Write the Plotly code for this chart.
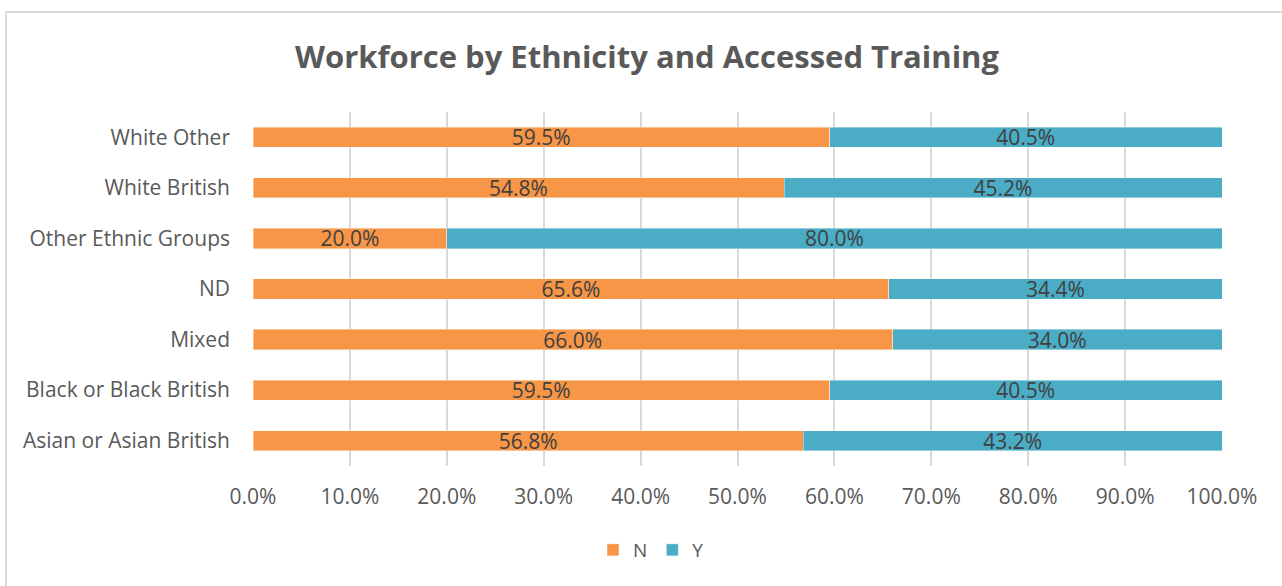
import plotly.graph_objects as go

# Ethnic groups, bottom to top as listed on the axis
groups = [
    "Asian or Asian British",
    "Black or Black British",
    "Mixed",
    "ND",
    "Other Ethnic Groups",
    "White British",
    "White Other",
]
# Share of the workforce that did (Y) / did not (N) access training, in %
pct_n = [56.8, 59.5, 66.0, 65.6, 20.0, 54.8, 59.5]
pct_y = [43.2, 40.5, 34.0, 34.4, 80.0, 45.2, 40.5]

x_ticks = [0, 10, 20, 30, 40, 50, 60, 70, 80, 90, 100]
x_tick_labels = [f"{v:.1f}%" for v in x_ticks]

ORANGE = "#F79646"
BLUE = "#4BACC6"
TEXT = "#595959"
LABEL = "#404040"
GRID = "#D9D9D9"
FONT = "Open Sans, Liberation Sans, sans-serif"

fig = go.Figure()
for name, vals, color in (("N", pct_n, ORANGE), ("Y", pct_y, BLUE)):
    fig.add_trace(go.Bar(
        name=name,
        y=groups,
        x=vals,
        orientation="h",
        marker=dict(color=color, line=dict(color="rgba(255,255,255,0.5)", width=0.8)),
        text=[f"{v:.1f}%" for v in vals],
        textposition="inside",
        insidetextanchor="middle",
        constraintext="none",
        textfont=dict(family=FONT, size=21, color=LABEL),
        hoverinfo="skip",
    ))

W, H = 1282, 586
ml, mr, mt, mb = 253, 60, 112, 120
pw, ph = W - ml - mr, H - mt - mb

def px_x(x):
    return (x - ml) / pw

def px_y(y):
    return 1 - (y - mt) / ph

fig.update_layout(
    width=W,
    height=H,
    barmode="stack",
    bargap=0.6,
    uniformtext=dict(minsize=21, mode="show"),
    margin=dict(l=ml, r=mr, t=mt, b=mb),
    paper_bgcolor="white",
    plot_bgcolor="white",
    font=dict(family=FONT, color=TEXT, size=20),
    title=dict(
        text="<b>Workforce by Ethnicity and Accessed Training</b>",
        font=dict(family=FONT, size=31, color=TEXT),
        x=px_x(647),
        xanchor="center",
        y=1 - 57 / H,
        yanchor="middle",
        xref="paper",
    ),
    xaxis=dict(
        range=[0, 100],
        tickvals=x_ticks,
        ticktext=x_tick_labels,
        showgrid=True,
        gridcolor=GRID,
        gridwidth=2,
        zeroline=False,
        showline=False,
        ticks="",
        tickfont=dict(family=FONT, size=21, color=TEXT),
        ticklabelstandoff=16,
        fixedrange=True,
    ),
    yaxis=dict(
        categoryorder="array",
        categoryarray=groups,
        range=[-0.5, 6.5],
        showgrid=False,
        zeroline=False,
        showline=False,
        ticks="",
        ticklabelstandoff=22,
        tickfont=dict(family=FONT, size=21, color=TEXT),
        fixedrange=True,
    ),
    legend=dict(
        orientation="h",
        x=px_x(651),
        xanchor="center",
        y=px_y(550),
        yanchor="middle",
        font=dict(family=FONT, size=19, color=TEXT),
        itemwidth=30,
        traceorder="normal",
    ),
    shapes=[
        # chart frame: top and left edges
        dict(type="line", xref="paper", yref="paper",
             x0=px_x(6), x1=px_x(1290), y0=px_y(12), y1=px_y(12),
             line=dict(color=GRID, width=2)),
        dict(type="line", xref="paper", yref="paper",
             x0=px_x(6), x1=px_x(6), y0=px_y(12), y1=px_y(600),
             line=dict(color=GRID, width=2)),
    ],
)

fig.write_html("out.html")
